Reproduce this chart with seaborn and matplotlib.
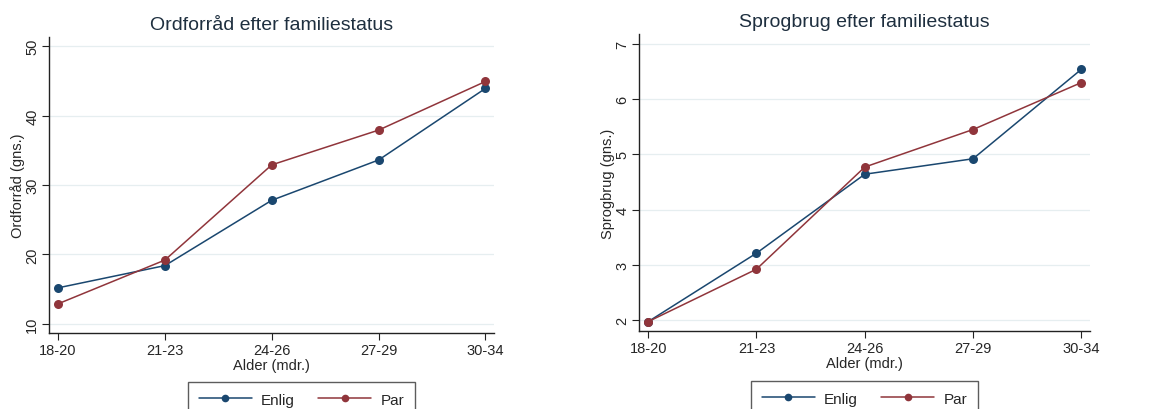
import pandas as pd
import numpy as np
import matplotlib
matplotlib.use("Agg")
import matplotlib.pyplot as plt
import seaborn as sns

# data
ages = ["18-20", "21-23", "24-26", "27-29", "30-34"]
groups = ["Enlig", "Par"]
ord_enlig = [15.2, 18.4, 27.8, 33.6, 43.9]
ord_par = [12.9, 19.2, 32.9, 37.9, 44.9]
sprog_enlig = [1.97, 3.21, 4.64, 4.92, 6.54]
sprog_par = [1.97, 2.92, 4.77, 5.45, 6.30]

colors = {"Enlig": "#1a476f", "Par": "#90353b"}

def long_df(enlig, par):
    return pd.DataFrame({
        "age": ages * 2,
        "group": ["Enlig"] * len(ages) + ["Par"] * len(ages),
        "value": enlig + par,
    })

sns.set_theme(style="white")
plt.rcParams['font.family'] = ['Liberation Sans', 'DejaVu Sans']

W, H = 1153, 410
fig = plt.figure(figsize=(W / 100, H / 100), dpi=100)
ax1 = fig.add_axes([49 / W, 1 - 334 / H, 445 / W, 296 / H])
ax2 = fig.add_axes([639 / W, 1 - 332 / H, 451 / W, 297 / H])

panels = [
    (ax1, long_df(ord_enlig, ord_par), "Ordforråd efter familiestatus", "Ordforråd (gns.)",
     (8.7, 51.3), [10, 20, 30, 40, 50], (301.5 / W, 1 - 383 / H)),
    (ax2, long_df(sprog_enlig, sprog_par), "Sprogbrug efter familiestatus", "Sprogbrug (gns.)",
     (1.8, 7.18), [2, 3, 4, 5, 6, 7], (864.5 / W, 1 - 382 / H)),
]

for ax, df, title, ylabel, ylim, yticks, legpos in panels:
    sns.lineplot(data=df, x="age", y="value", hue="group", hue_order=groups,
                 palette=colors, marker="o", markersize=6.5, markeredgewidth=0,
                 linewidth=1.1, ax=ax, sort=False)
    ax.set_xlim(-0.085, 4.08)
    ax.set_ylim(*ylim)
    ax.set_yticks(yticks)
    ax.set_xticks(range(len(ages)))
    ax.set_xticklabels(ages)
    ax.grid(axis="y", color="#e6eef0", linewidth=0.9)
    ax.set_axisbelow(True)
    for s in ["top", "right"]:
        ax.spines[s].set_visible(False)
    for s in ["left", "bottom"]:
        ax.spines[s].set_color("#222222")
        ax.spines[s].set_linewidth(1.0)
    ax.tick_params(axis="both", which="both", direction="out", length=5, width=0.8,
                   color="#222222", labelsize=10.5, pad=2, left=True, bottom=True)
    for lab in ax.get_yticklabels():
        lab.set_rotation(90)
        lab.set_va("center")
    ax.set_title(title, fontsize=14, color="#1e2f3f", pad=6)
    ax.set_xlabel("Alder (mdr.)", fontsize=10.5, labelpad=1)
    ax.set_ylabel(ylabel, fontsize=10.5, labelpad=0)
    ax.get_legend().remove()
    handles, labels = ax.get_legend_handles_labels()
    for h in handles:
        h.set_markersize(5.5)
    leg = ax.legend(handles, labels, loc="upper center", bbox_to_anchor=legpos,
                    bbox_transform=fig.transFigure, ncol=2,
                    frameon=True, fancybox=False, fontsize=11, handlelength=3.5,
                    handletextpad=0.6, columnspacing=1.5, borderpad=0.7,
                    borderaxespad=0)
    leg.get_frame().set_edgecolor("#333333")
    leg.get_frame().set_linewidth(1.0)

fig.savefig("out.png", dpi=100)
